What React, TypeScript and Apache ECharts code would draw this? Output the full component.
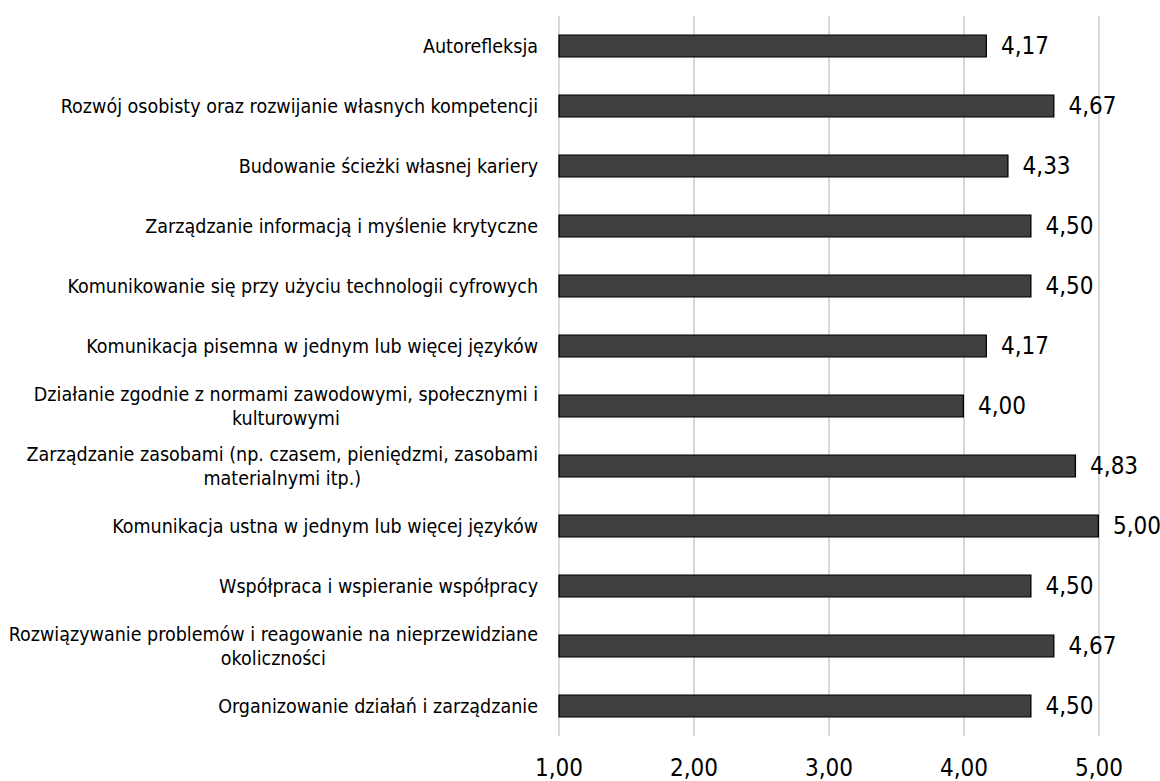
import React, { useEffect, useRef } from "react";
import * as echarts from "echarts";

// Competence areas, top to bottom
const categories: string[] = [
  "Autorefleksja",
  "Rozwój osobisty oraz rozwijanie własnych kompetencji",
  "Budowanie ścieżki własnej kariery",
  "Zarządzanie informacją i myślenie krytyczne",
  "Komunikowanie się przy użyciu technologii cyfrowych",
  "Komunikacja pisemna w jednym lub więcej języków",
  "Działanie zgodnie z normami zawodowymi, społecznymi i\nkulturowymi",
  "Zarządzanie zasobami (np. czasem, pieniędzmi, zasobami\nmaterialnymi itp.)",
  "Komunikacja ustna w jednym lub więcej języków",
  "Współpraca i wspieranie współpracy",
  "Rozwiązywanie problemów i reagowanie na nieprzewidziane\nokoliczności",
  "Organizowanie działań i zarządzanie",
];

// Mean ratings
const values: number[] = [4.17, 4.67, 4.33, 4.5, 4.5, 4.17, 4.0, 4.83, 5.0, 4.5, 4.67, 4.5];

// Value axis range and step
const axisMin = 1;
const axisMax = 5;
const axisStep = 1;

const FONT = '"DejaVu Sans Condensed", "DejaVu Sans", Tahoma, sans-serif';

const fmt = (v: number) => v.toFixed(2).replace(".", ",");

export default function App() {
  const ref = useRef<HTMLDivElement>(null);

  useEffect(() => {
    if (!ref.current) return;
    const chart = echarts.init(ref.current, undefined, { renderer: "svg" });
    chart.setOption({
      animation: false,
      backgroundColor: "#ffffff",
      grid: { left: 559, right: 61, top: 16, bottom: 45, containLabel: false },
      xAxis: {
        type: "value",
        min: axisMin,
        max: axisMax,
        interval: axisStep,
        axisLine: { show: false },
        axisTick: { show: false },
        splitLine: { show: true, lineStyle: { color: "#d9d9d9", width: 2 } },
        axisLabel: {
          formatter: (v: number) => fmt(v),
          fontFamily: FONT,
          fontSize: 24,
          color: "#000000",
          margin: 20,
        },
      },
      yAxis: {
        type: "category",
        data: categories,
        inverse: true,
        axisLine: { show: false },
        axisTick: { show: false },
        splitLine: { show: false },
        axisLabel: {
          fontFamily: FONT,
          fontSize: 19.5,
          color: "#000000",
          margin: 21,
          lineHeight: 24,
          // wrapped labels: each line centred within the right-aligned block
          formatter: (s: string) =>
            s
              .split("\n")
              .map((line) => `{c|${line}}`)
              .join("\n"),
          rich: {
            c: {
              align: "center",
              fontFamily: FONT,
              fontSize: 19.5,
              lineHeight: 24,
              color: "#000000",
            },
          },
        },
      },
      series: [
        {
          type: "bar",
          data: values,
          barWidth: 23,
          itemStyle: { color: "#404040", borderColor: "#000000", borderWidth: 1.3 },
          label: {
            show: true,
            position: "right",
            distance: 14,
            formatter: (p: any) => fmt(p.value),
            fontFamily: FONT,
            fontSize: 24,
            color: "#000000",
          },
        },
      ],
    });
    return () => chart.dispose();
  }, []);

  return (
    <div
      ref={ref}
      style={{ position: "fixed", left: 0, top: 0, width: 1160, height: 781, background: "#fff" }}
    />
  );
}
